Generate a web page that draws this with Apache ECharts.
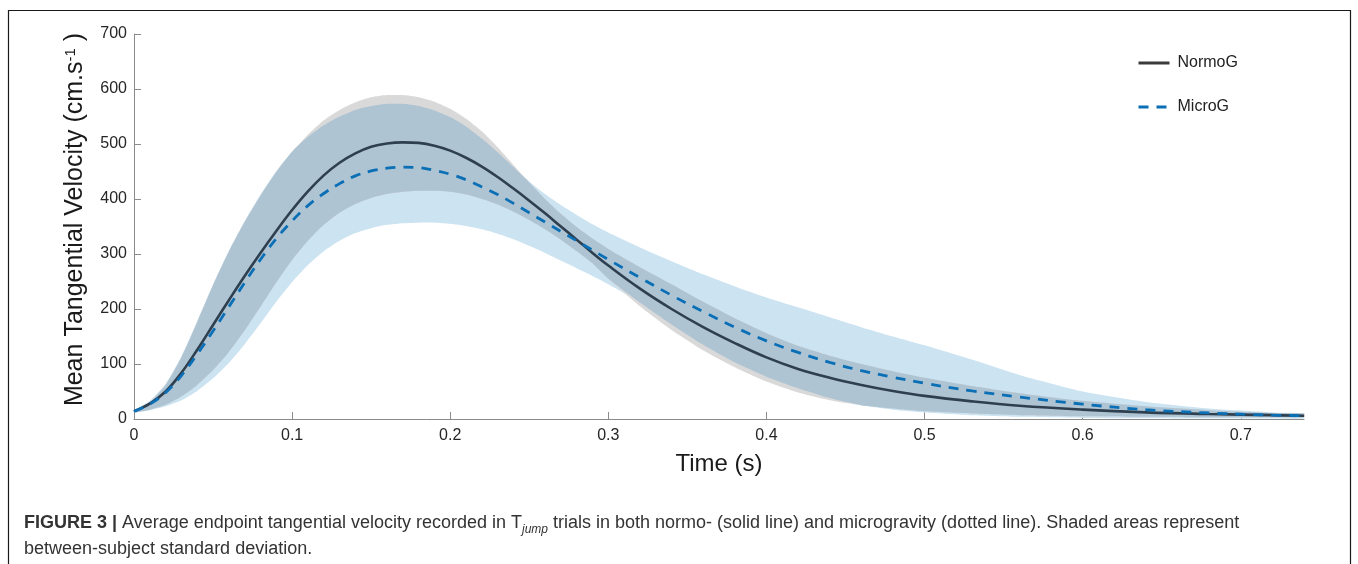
<!DOCTYPE html>
<html><head><meta charset="utf-8">
<script src="https://cdn.jsdelivr.net/npm/echarts@6/dist/echarts.min.js"></script>
<style>html,body{margin:0;padding:0;background:#fff;}#c{width:1358px;height:564px;}</style>
</head><body><div id="c"></div>
<script>
// Time samples (s)
const tValues = [0,0.01,0.02,0.03,0.04,0.05,0.06,0.07,0.08,0.09,0.10,0.11,0.12,0.13,0.14,0.15,0.16,0.17,0.18,0.19,0.20,0.21,0.22,0.23,0.24,0.25,0.26,0.27,0.28,0.29,0.30,0.32,0.34,0.36,0.38,0.40,0.42,0.44,0.46,0.48,0.50,0.53,0.56,0.60,0.64,0.68,0.72,0.74];
// NormoG (cm/s)
const normoMean  = [14,28,50,84,126,171,216,260,302,342,380,414,443,466,483,495,501,503,502,497,488,475,459,440,419,397,374,350,326,302,279,237,200,167,138,112,91,75,62,51,42,32,24,17,12,9,7,6];
const normoUpper = [16,31,62,112,176,243,304,358,406,449,486,517,543,562,576,585,589,589,585,577,564,546,523,494,462,430,400,373,349,328,309,276,245,213,183,156,133,115,100,87,75,60,47,33,23,16,11,10];
const normoLower = [12,17,26,41,62,89,122,161,204,248,289,324,353,375,391,402,409,413,415,415,413,408,400,390,377,362,345,326,305,283,255,205,162,125,94,68,48,34,25,19,14,10,7,5,4,3,3,3];
// MicroG (cm/s)
const microMean  = [14,27,48,79,118,160,204,248,290,328,360,388,410,428,442,451,456,458,457,452,445,435,422,408,392,375,358,341,324,307,290,257,225,195,167,142,121,103,88,76,65,51,40,27,17,11,7,6];
const microUpper = [16,33,64,114,178,245,306,360,408,451,486,513,534,550,562,569,573,573,569,561,549,532,510,485,458,432,409,389,371,354,339,312,287,263,241,221,203,185,167,150,134,108,80,50,31,19,12,10];
const microLower = [12,16,23,34,51,74,102,136,174,213,249,280,305,324,338,347,353,356,357,357,355,351,345,337,327,315,302,288,274,260,245,212,172,135,103,77,56,38,25,17,12,7,4,2,1.5,1,1,1];
// Axis ticks
const xTicks = [0,0.1,0.2,0.3,0.4,0.5,0.6,0.7];
const yTicks = [0,100,200,300,400,500,600,700];

const FONT = "'Liberation Sans', Arial, Helvetica, sans-serif";
const C_MICRO_BAND = '#cce3f1';
const C_NORMO_BAND = '#d9d9d9';
const C_OVERLAP = '#afc4d3';

function pairs(vals){ return tValues.map((t,i)=>[t, vals[i]]); }
const ovLo = tValues.map((t,i)=>Math.max(normoLower[i], microLower[i]));
const ovHi = tValues.map((t,i)=>Math.min(normoUpper[i], microUpper[i]));

function band(name, lo, hi, color){
  return {
    name:name, type:'custom', coordinateSystem:'cartesian2d', silent:true, z:1,
    data: tValues.map((t,i)=>[t, lo[i], hi[i]]),
    encode:{x:0, y:[1,2]},
    renderItem: function(params, api){
      if (params.dataIndex !== 0) return null;
      const pts = [];
      for (let i = 0; i < tValues.length; i++) pts.push(api.coord([tValues[i], hi[i]]));
      for (let i = tValues.length - 1; i >= 0; i--) pts.push(api.coord([tValues[i], lo[i]]));
      return {type:'polygon', shape:{points:pts, smooth:0.2}, style:{fill:color, stroke:null}};
    }
  };
}

const chart = echarts.init(document.getElementById('c'), null, {renderer:'canvas'});
chart.setOption({
  animation:false,
  backgroundColor:'#fff',
  grid:{left:134, right:54, top:34, bottom:145},
  legend:{
    orient:'vertical', left:1132, top:50, itemWidth:31, itemHeight:14, itemGap:28,
    itemStyle:{opacity:0},
    data:[
      {name:'NormoG', lineStyle:{color:'#3a3a3a', width:3}},
      {name:'MicroG', lineStyle:{width:3}}
    ],
    textStyle:{fontSize:16, color:'#222', fontFamily:FONT, padding:[0,0,0,3]}
  },
  xAxis:{
    type:'value', min:0, max:0.74,
    axisLine:{show:true, onZero:false, lineStyle:{color:'#8a8a8a', width:1}},
    axisTick:{show:true, inside:true, length:7, customValues:xTicks, lineStyle:{color:'#8a8a8a'}},
    axisLabel:{show:true, customValues:xTicks, fontSize:16, color:'#262626', margin:9, fontFamily:FONT},
    splitLine:{show:false},
    name:'Time (s)', nameLocation:'middle', nameGap:33,
    nameTextStyle:{fontSize:24, color:'#1a1a1a', fontFamily:FONT}
  },
  yAxis:{
    type:'value', min:0, max:700, interval:100,
    axisLine:{show:true, onZero:false, lineStyle:{color:'#8a8a8a', width:1}},
    axisTick:{show:true, inside:true, length:7, customValues:yTicks, lineStyle:{color:'#8a8a8a'}},
    axisLabel:{show:true, customValues:yTicks, fontSize:16, color:'#262626', margin:7, fontFamily:FONT},
    splitLine:{show:false},
    name:'Mean Tangential Velocity (cm.s{sup|-1} )', nameLocation:'middle', nameGap:46, nameRotate:90,
    nameTextStyle:{fontSize:25, color:'#1a1a1a', fontFamily:FONT, padding:[0,0,0,14],
      rich:{sup:{fontSize:15, color:'#1a1a1a', fontFamily:FONT, verticalAlign:'top', lineHeight:14}}}
  },
  series:[
    band('microBand', microLower, microUpper, C_MICRO_BAND),
    band('normoBand', normoLower, normoUpper, C_NORMO_BAND),
    band('overlapBand', ovLo, ovHi, C_OVERLAP),
    {name:'NormoG', type:'line', data:pairs(normoMean), symbol:'none', smooth:0.4, z:3,
     lineStyle:{color:'#2e3f4f', width:2.6}, itemStyle:{color:'#2e3f4f'}},
    {name:'MicroG', type:'line', data:pairs(microMean), symbol:'none', smooth:0.4, z:4,
     lineStyle:{color:'#0b6fb6', width:2.8, type:[10,8]}, itemStyle:{color:'#0b6fb6'}}
  ],
  graphic:[
    {type:'rect', silent:true, shape:{x:8.5, y:10.5, width:1342, height:620},
     style:{fill:'none', stroke:'#1a1a1a', lineWidth:1.2}},
    {type:'text', left:24, top:510, silent:true,
     style:{
       text:'{b|FIGURE 3 |} Average endpoint tangential velocity recorded in T{sub|jump} trials in both normo- (solid line) and microgravity (dotted line). Shaded areas represent\nbetween-subject standard deviation.',
       fontSize:18, lineHeight:26, fill:'#333', fontFamily:FONT,
       rich:{
         b:{fontWeight:'bold', fontSize:18, fill:'#333', fontFamily:FONT, lineHeight:26},
         sub:{fontSize:12, fontStyle:'italic', fill:'#333', fontFamily:FONT, verticalAlign:'bottom', lineHeight:17}
       }
     }}
  ]
});
</script></body></html>
